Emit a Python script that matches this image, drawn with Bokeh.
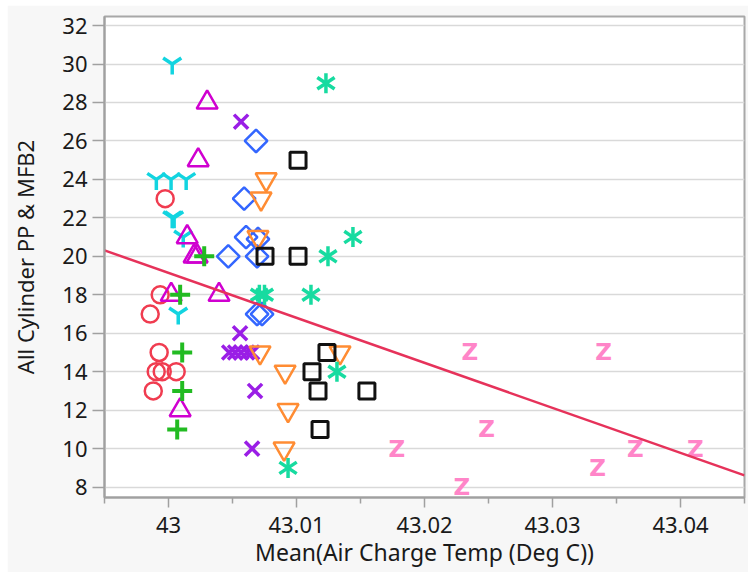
from bokeh.plotting import figure
from bokeh.models import FixedTicker, CustomJSTickFormatter, Range1d
from bokeh.core.properties import value
from bokeh.embed import file_html
from bokeh.resources import INLINE

# ---- axis ticks ----
x_ticks = [43.0, 43.01, 43.02, 43.03, 43.04]
x_minor = [42.995, 43.005, 43.015, 43.025, 43.035, 43.045]
y_ticks = [8, 10, 12, 14, 16, 18, 20, 22, 24, 26, 28, 30, 32]

# ---- series (x = Mean(Air Charge Temp), y = All Cylinder PP & MFB2) ----
circle_x = [42.99974, 42.99935, 42.99857, 42.99927, 42.99904, 42.99951, 43.0006, 42.99881]
circle_y = [23, 18, 17, 15, 14, 14, 14, 13]

y_x = [43.00029, 42.99905, 43.0002, 43.00138, 43.00029, 43.00044, 43.00115, 43.00076]
y_y = [30, 24, 24, 24, 22, 22, 21, 17]

tri_x = [43.00302, 43.00232, 43.00146, 43.0020, 43.00224, 43.00021, 43.00395, 43.00091]
tri_y = [28, 25, 21, 20, 20, 18, 18, 12]

plus_x = [43.00091, 43.00107, 43.00107, 43.00068, 43.00279]
plus_y = [18, 15, 13, 11, 20]

xm_x = [43.00567, 43.00559, 43.00474, 43.0052, 43.00567, 43.00614, 43.00653, 43.00676, 43.00653]
xm_y = [27, 16, 15, 15, 15, 15, 15, 13, 10]

dia_x = [43.00684, 43.00591, 43.00606, 43.00699, 43.00467, 43.00692, 43.00692, 43.00731]
dia_y = [26, 23, 21, 20.9, 20, 20, 17, 17]

inv_x = [43.00763, 43.00723, 43.00699, 43.00715, 43.00911, 43.00934, 43.00903, 43.0134]
inv_y = [24, 23, 21, 15, 14, 12, 10, 15]

sq_x = [43.01012, 43.00754, 43.01012, 43.01238, 43.01121, 43.01168, 43.0155, 43.01184]
sq_y = [25, 20, 20, 15, 14, 13, 13, 11]

ast_x = [43.0123, 43.01441, 43.01246, 43.01113, 43.0071, 43.0075, 43.01316, 43.00934]
ast_y = [29, 21, 20, 18, 18, 18, 14, 9]

z_x = [43.02354, 43.03399, 43.02486, 43.01784, 43.02291, 43.03352, 43.03648, 43.04116]
z_y = [15, 15, 11, 10, 8, 9, 10, 10]

fit_x = [42.995, 43.045]
fit_y = [20.31, 8.61]

x_title = "Mean(Air Charge Temp (Deg C))"
y_title = "All Cylinder PP & MFB2"

FONT = "Noto Sans"
FS = "22px"

p = figure(width=741, height=567,
           x_range=Range1d(42.995, 43.045), y_range=Range1d(7.46, 32.47),
           output_backend="svg", toolbar_location=None,
           min_border_left=97, min_border_right=4, min_border_top=11, min_border_bottom=75)
p.styles = {"margin-left": "7px", "margin-top": "5px"}

p.background_fill_color = "white"
p.border_fill_color = "#f7f7f7"
p.outline_line_color = "#a8a8a8"
p.outline_line_width = 2

p.xgrid.visible = False
p.ygrid.grid_line_color = "#d9d9d9"
p.ygrid.grid_line_width = 1.5

p.xaxis.ticker = FixedTicker(ticks=x_ticks, minor_ticks=x_minor)
p.xaxis.formatter = CustomJSTickFormatter(code="return tick.toFixed(2).replace(/\\.?0+$/, '');")
p.yaxis.ticker = FixedTicker(ticks=y_ticks, minor_ticks=[])

for ax in (p.xaxis[0], p.yaxis[0]):
    ax.axis_line_color = "#a0a0a0"
    ax.axis_line_width = 2
    ax.major_tick_line_color = "#a0a0a0"
    ax.major_tick_line_width = 1.5
    ax.minor_tick_line_color = "#a0a0a0"
    ax.minor_tick_line_width = 1.5
    ax.major_tick_in = 0
    ax.minor_tick_in = 0
    ax.major_label_text_font = FONT
    ax.major_label_text_font_size = FS
    ax.major_label_text_color = "#1a1a1a"
    ax.axis_label_text_font = FONT
    ax.axis_label_text_font_size = FS
    ax.axis_label_text_font_style = "normal"
    ax.axis_label_text_color = "#1a1a1a"

p.xaxis.major_tick_out = 10
p.xaxis.minor_tick_out = 6
p.xaxis.major_label_standoff = 9
p.xaxis.axis_label = x_title
p.xaxis.axis_label_text_font_size = "23px"
p.xaxis.axis_label_standoff = 0

p.yaxis.major_tick_out = 12
p.yaxis.minor_tick_out = 0
p.yaxis.major_label_standoff = 5
p.yaxis.axis_label = y_title
p.yaxis.axis_label_standoff = 19

LW = 2.5
p.scatter(circle_x, circle_y, marker="circle", size=17, fill_color=None,
          line_color="#f03c50", line_width=LW)
p.scatter(y_x, y_y, marker="y", size=21, line_color="#12d4e0", line_width=3.5)
p.scatter(tri_x, tri_y, marker="triangle", size=21, fill_color=None,
          line_color="#d000d0", line_width=LW)
p.scatter(plus_x, plus_y, marker="cross", size=20, line_color="#22bb22", line_width=4)
p.scatter(xm_x, xm_y, marker="x", size=20, line_color="#9a1ee6", line_width=3.5)
p.scatter(dia_x, dia_y, marker="square", size=16, angle=45, angle_units="deg",
          fill_color=None, line_color="#3366ff", line_width=LW)
p.scatter(inv_x, inv_y, marker="inverted_triangle", size=21, fill_color=None,
          line_color="#ff8c33", line_width=LW)
p.scatter(sq_x, sq_y, marker="square", size=16, fill_color=None,
          line_color="#111111", line_width=3)
p.scatter(ast_x, ast_y, marker="y", size=20, line_color="#17dba0", line_width=3.5)
p.scatter(ast_x, ast_y, marker="y", size=20, angle=180, angle_units="deg",
          line_color="#17dba0", line_width=3.5)
p.text(z_x, z_y, text=["Z"] * len(z_x), text_font=value("DejaVu Sans"),
       text_font_style="bold", text_font_size="23px", text_color="#ff85c8",
       text_align="center", text_baseline="middle")

p.line(fit_x, fit_y, line_color="#e6325a", line_width=2.5)

open("out.html", "w").write(file_html(p, INLINE))
